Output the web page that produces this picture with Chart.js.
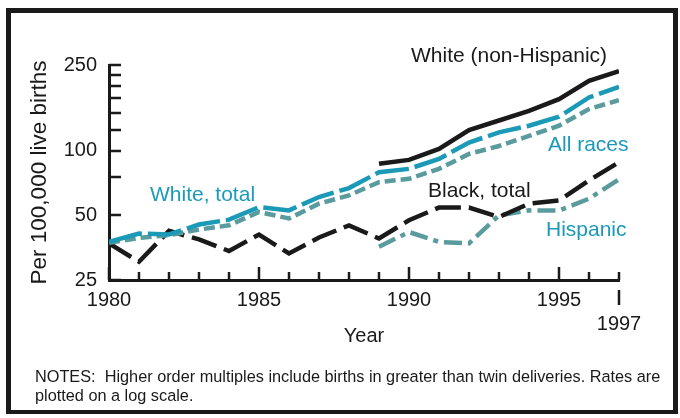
<!DOCTYPE html>
<html>
<head>
<meta charset="utf-8">
<script src="https://cdn.jsdelivr.net/npm/chart.js@4.4.1/dist/chart.umd.min.js"></script>
<style>
  html, body { margin: 0; padding: 0; background: #fff; }
  #wrap { position: relative; width: 680px; height: 418px; }
  #frame { position: absolute; left: 6px; top: 8px; width: 662px; height: 397px;
           border-style: solid; border-color: #1a1a1a; border-width: 5px 5px 4px 5px; pointer-events: none; }
</style>
</head>
<body>
<div id="wrap">
  <canvas id="multChart" width="680" height="418"></canvas>
  <div id="frame"></div>
</div>
<script>
// rates per 100,000 live births, higher order multiples
const years = [1980, 1981, 1982, 1983, 1984, 1985, 1986, 1987, 1988, 1989,
               1990, 1991, 1992, 1993, 1994, 1995, 1996, 1997];
const whiteTotal = [37.6, 41.1, 40.7, 45.3, 47.7, 54.6, 52.7, 60.8, 66.9, 79.3,
                    82.2, 91.5, 109, 121.5, 130.5, 143.6, 176.6, 198];
const allRaces = [37.2, 39.2, 40.4, 42.9, 44.9, 51.8, 48.3, 56.6, 61.9, 71.3,
                  73.9, 82.2, 96.5, 105, 117, 130.5, 156, 171.6];
const whiteNonHisp = [null, null, null, null, null, null, null, null, null, 86.8,
                      90.5, 101.8, 124.6, 138, 153, 173.5, 211, 234];
const blackTotal = [37.0, 30.4, 42.3, 38.6, 34.1, 40.7, 33.2, 39.4, 44.9, 39.0,
                    47.4, 54.3, 54.3, 49.1, 56.6, 58.6, 72.6, 88.2];
const hispanic = [null, null, null, null, null, null, null, null, null, 35.7,
                  41.8, 37.6, 37.0, 50, 52.7, 52.6, 59.7, 73.4];

const yTicks = [25, 50, 75, 100, 125, 150, 175, 200, 225, 250];
const yLabels = [25, 50, 100, 250];
const xLabels = [1980, 1985, 1990, 1995, 1997];

const TEAL = '#1b9ab8';
const GREYTEAL = '#5a9b9d';
const INK = '#1a1a1a';
const FONT = '"Liberation Sans", Arial, sans-serif';

function pts(arr) {
    return years.map((yr, i) => ({ x: yr, y: arr[i] }));
}

function line(label, arr, color, dash) {
    return {
        label: label, data: pts(arr), borderColor: color, borderWidth: 4.5,
        borderDash: dash, borderCapStyle: 'butt', borderJoinStyle: 'miter',
        pointRadius: 0, tension: 0, spanGaps: false, fill: false
    };
}

// tick marks inside the axes, labels and notes
const decor = {
    id: 'decor',
    afterDraw(chart) {
        const ctx = chart.ctx;
        const xs = chart.scales.x, ys = chart.scales.y;
        const left = chart.chartArea.left, bottom = chart.chartArea.bottom;
        ctx.save();
        ctx.strokeStyle = INK;
        ctx.lineWidth = 2.5;
        ctx.beginPath();
        yTicks.forEach(v => {
            const py = Math.round(ys.getPixelForValue(v));
            ctx.moveTo(left, py); ctx.lineTo(left + 12, py);
        });
        years.forEach(yr => {
            const px = Math.round(xs.getPixelForValue(yr));
            const len = (yr % 5 === 0) ? 13 : 8;
            ctx.moveTo(px, bottom); ctx.lineTo(px, bottom - len);
        });
        const p97 = Math.round(xs.getPixelForValue(1997));
        ctx.moveTo(p97, bottom + 10); ctx.lineTo(p97, bottom + 25);
        ctx.stroke();

        ctx.font = '21px ' + FONT;
        ctx.textBaseline = 'middle';
        ctx.textAlign = 'left';
        ctx.fillStyle = INK;
        ctx.fillText('White (non-Hispanic)', 411, 56);
        ctx.fillText('Black, total', 428, 191);
        ctx.fillStyle = TEAL;
        ctx.fillText('All races', 548, 145);
        ctx.fillText('White, total', 150, 195);
        ctx.fillText('Hispanic', 546, 230);

        ctx.fillStyle = INK;
        ctx.font = '16.3px ' + FONT;
        ctx.fillText('NOTES:  Higher order multiples include births in greater than twin deliveries. Rates are', 35, 378);
        ctx.fillText('plotted on a log scale.', 35, 397);
        ctx.restore();
    }
};

new Chart(document.getElementById('multChart'), {
    type: 'line',
    data: {
        datasets: [
            line('White (non-Hispanic)', whiteNonHisp, INK, []),
            line('White, total', whiteTotal, TEAL, [34, 6]),
            line('All races', allRaces, GREYTEAL, [11, 5]),
            line('Black, total', blackTotal, INK, [26, 8]),
            line('Hispanic', hispanic, GREYTEAL, [18, 6, 5, 6])
        ]
    },
    options: {
        responsive: false,
        animation: false,
        devicePixelRatio: 1,
        layout: { padding: { left: 24, top: 65, right: 61, bottom: 70 } },
        plugins: { legend: { display: false }, tooltip: { enabled: false } },
        scales: {
            x: {
                type: 'linear', min: 1980, max: 1997,
                afterBuildTicks: s => { s.ticks = xLabels.map(v => ({ value: v })); },
                afterFit: s => { s.height = 68; },
                grid: { display: false, drawTicks: false },
                border: { display: true, width: 3, color: INK },
                ticks: {
                    autoSkip: false, maxRotation: 0, padding: 8, color: INK,
                    font: { family: FONT, size: 20 },
                    callback: v => (v === 1997 ? ['', '1997'] : String(v))
                },
                title: { display: true, text: 'Year', color: INK, padding: 0,
                         font: { family: FONT, size: 20 } }
            },
            y: {
                type: 'logarithmic', min: 25, max: 250,
                afterBuildTicks: s => { s.ticks = yLabels.map(v => ({ value: v })); },
                afterFit: s => { s.width = 85; },
                grid: { display: false, drawTicks: false },
                border: { display: true, width: 3, color: INK },
                ticks: {
                    autoSkip: false, padding: 12, color: INK,
                    font: { family: FONT, size: 20 },
                    callback: v => String(v)
                },
                title: { display: true, text: 'Per 100,000 live births', color: INK,
                         padding: 2, font: { family: FONT, size: 22.5 } }
            }
        }
    },
    plugins: [decor]
});
</script>
</body>
</html>
